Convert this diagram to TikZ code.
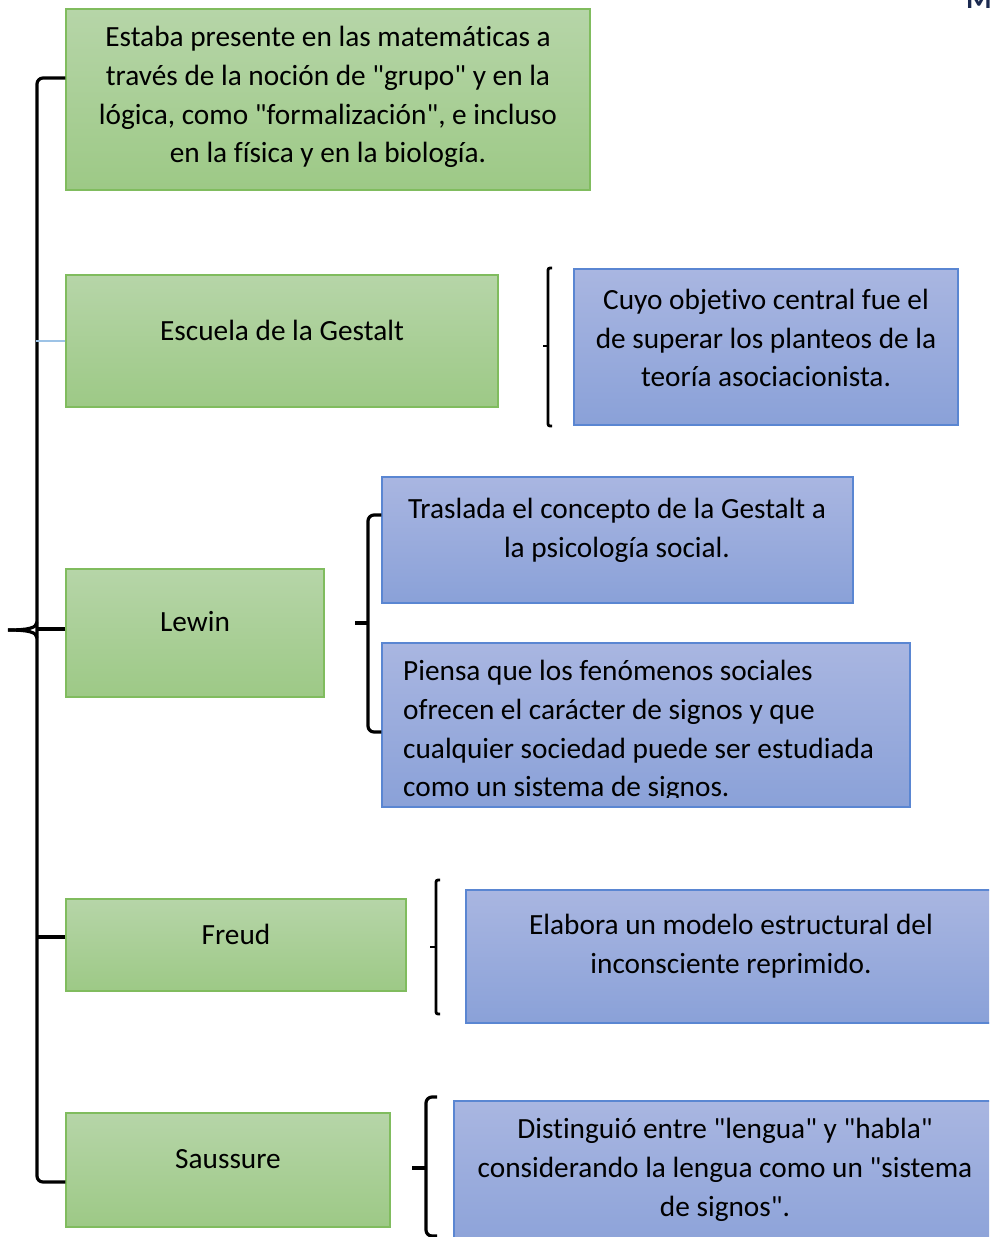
\documentclass[tikz,border=0pt]{standalone}
\usepackage{fontspec}
\setmainfont{Carlito}[Ligatures={TeXOff,NoCommon}]
\definecolor{gtop}{HTML}{B6D5A8}
\definecolor{gbot}{HTML}{9DC986}
\definecolor{gborder}{HTML}{80BC5E}
\definecolor{btop}{HTML}{A9B6E1}
\definecolor{bbot}{HTML}{8AA1D8}
\definecolor{bborder}{HTML}{5A86D2}
\definecolor{lblue}{HTML}{9DC3E6}
\definecolor{navy}{HTML}{1B2A50}
\tikzset{
  gbox/.style={rectangle, draw=gborder, line width=1.4pt, top color=gtop, bottom color=gbot, inner sep=0pt},
  bbox/.style={rectangle, draw=bborder, line width=1.4pt, top color=btop, bottom color=bbot, inner sep=0pt},
  txt/.style={inner sep=0pt, align=center, font=\fontsize{29.3}{38.7}\selectfont},
  ltxt/.style={inner sep=0pt, align=left, font=\fontsize{29.3}{38.7}\selectfont},
  brace/.style={draw=black, line width=3.2pt, rounded corners=6pt},
  thinlink/.style={draw=lblue, line width=1.5pt}
}
\begin{document}
\begin{tikzpicture}[x=1pt, y=-1pt]
\useasboundingbox (0,0) rectangle (989,1237);
\clip (0,0) rectangle (989,1237);
\fill[white] (0,0) rectangle (989,1237);

% boxes
\node[gbox, minimum width=524, minimum height=181] (g1) at (328,99.5) {};
\node[gbox, minimum width=432, minimum height=132] (g2) at (282,341) {};
\node[bbox, minimum width=384, minimum height=156] (b1) at (766,347) {};
\node[gbox, minimum width=258, minimum height=128] (g3) at (195,633) {};
\node[bbox, minimum width=471, minimum height=126] (b2) at (617.5,540) {};
\node[bbox, minimum width=528, minimum height=164] (b3) at (646,725) {};
\node[gbox, minimum width=340, minimum height=92] (g4) at (236,945) {};
\node[bbox, minimum width=530, minimum height=133] (b4) at (731,956.5) {};
\node[gbox, minimum width=324, minimum height=114] (g5) at (228,1170) {};
\node[bbox, minimum width=542, minimum height=156] (b5) at (725,1179) {};

% texts
\node[txt] (t1) at (328,97) {Estaba presente en las matemáticas a\\través de la noción de "grupo" y en la\\lógica, como "formalización", e incluso\\en la física y en la biología.};
\node[txt] (t2) at (282,330) {Escuela de la Gestalt};
\node[txt] (t3) at (766,338) {Cuyo objetivo central fue el\\de superar los planteos de la\\teoría asociacionista.};
\node[txt] (t4) at (195,622) {Lewin};
\node[txt] (t5) at (617,530) {Traslada el concepto de la Gestalt a\\la psicología social.};
\begin{scope}
\clip (382,643) rectangle (910,797);
\node[ltxt, anchor=west] (t6) at (403,731) {Piensa que los fenómenos sociales\\ofrecen el carácter de signos y que\\cualquier sociedad puede ser estudiada\\como un sistema de signos.};
\end{scope}
\node[txt] (t7) at (236,934) {Freud};
\node[txt] (t8) at (731,946) {Elabora un modelo estructural del\\inconsciente reprimido.};
\node[txt] (t9) at (228,1159) {Saussure};
\node[txt] (t10) at (725,1170) {Distinguió entre "lengua" y "habla"\\considerando la lengua como un "sistema\\de signos".};
\node[anchor=base, inner sep=0pt, text=navy, font=\bfseries\fontsize{29.3}{34}\selectfont] (m) at (979,8) {M};

% main brace
\coordinate (mt) at (37,630);
\coordinate (mtip) at (8,630);
\draw[brace] ([yshift=21.5pt]g1.west) -| (mt) |- ([yshift=-12pt]g5.west);
\draw[brace, rounded corners=0pt] (mtip) .. controls (28,630) and (37,628) .. (37,622);
\draw[brace, rounded corners=0pt] (mtip) .. controls (28,630) and (37,632) .. (37,638);
\draw[thinlink] (g2.west) -- ++(-29,0);
\draw[brace, rounded corners=0pt] ([yshift=4pt]g3.west) -- ++(-29,0);
\draw[brace, rounded corners=0pt] ([yshift=8pt]g4.west) -- ++(-29,0);

% Gestalt brace
\coordinate (c1) at (548,346);
\draw[brace, line width=2.8pt, rounded corners=2pt] (552,268) -| (c1) |- (552,426);
\draw[brace, line width=2.8pt, rounded corners=0pt] (c1) -- (543,346);

% Lewin brace
\coordinate (c2) at (368,623);
\draw[brace] ([yshift=25pt]b2.west) -| (c2) |- ([yshift=-7pt]b3.west);
\draw[brace, rounded corners=0pt] (c2) -- (355,623);

% Freud brace
\coordinate (c3) at (436,947);
\draw[brace, line width=2.8pt, rounded corners=2pt] (440,880) -| (c3) |- (440,1014);
\draw[brace, line width=2.8pt, rounded corners=0pt] (c3) -- (430,947);

% Saussure brace
\coordinate (c4) at (426,1168);
\draw[brace] (437,1097) -| (c4) |- (437,1236);
\draw[brace, rounded corners=0pt] (c4) -- (412,1168);
\end{tikzpicture}
\end{document}
